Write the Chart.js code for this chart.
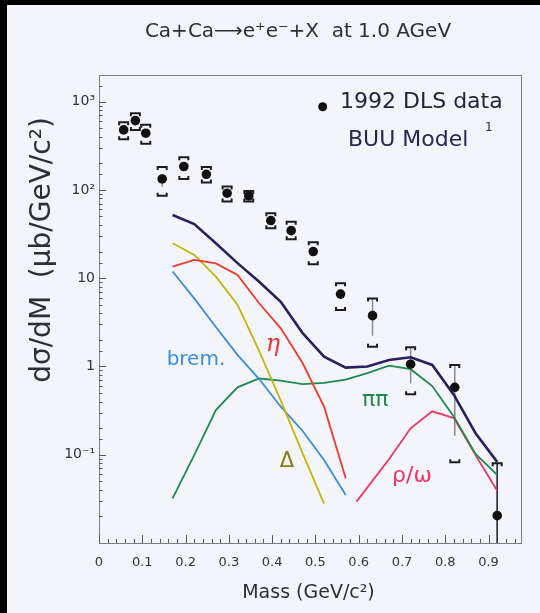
<!DOCTYPE html>
<html>
<head>
<meta charset="utf-8">
<script src="https://cdn.jsdelivr.net/npm/chart.js@4/dist/chart.umd.min.js"></script>
<style>
  html, body { margin: 0; padding: 0; background: #000; }
  body { width: 540px; height: 613px; overflow: hidden; position: relative; }
  #wrap { position: absolute; left: 7px; top: 5px; width: 533px; height: 608px; background: #f3f5fb; }
  canvas { display: block; }
</style>
</head>
<body>
<div id="wrap"><canvas id="chart" width="533" height="608"></canvas></div>
<script>
// DLS data (mass in GeV/c^2, cross section in ub/GeV/c^2)
const dlsMass = [0.057, 0.084, 0.108, 0.146, 0.196, 0.248, 0.296, 0.346, 0.397, 0.444, 0.495, 0.558, 0.632, 0.720, 0.822, 0.920];
const dlsVals = [478, 609, 438, 133, 184, 150, 91.6, 85.5, 44.9, 34.5, 20, 6.6, 3.76, 1.06, 0.58, 0.0204];
// systematic brackets
const sysHigh = [584, 739, 545, 181, 234, 181, 109, 97, 54.5, 43.6, 25.5, 8.75, 5.9, 1.65, 1.04, 0.080];
const sysLow = [375, 478, 332, 86, 133, 121, 73.6, 73.6, 36.8, 27.6, 14.4, 4.37, 1.67, 0.484, 0.082, null];
// statistical error lines
const statHigh = [null, null, null, 150, null, null, null, null, null, null, null, null, 5.9, 1.65, 1.04, 0.080];
const statLow = [null, null, null, 109, null, null, null, null, null, null, null, null, 2.23, 0.64, 0.164, 0.01];

// BUU model curves
const modelMass = [0.17, 0.22, 0.27, 0.32, 0.37, 0.42, 0.47, 0.52, 0.57, 0.62, 0.67, 0.72, 0.77, 0.82, 0.87, 0.92];
const totalVals = [52, 41, 24.9, 14.8, 9.1, 5.4, 2.4, 1.29, 0.97, 1.0, 1.18, 1.27, 1.04, 0.475, 0.175, 0.083];
const etaVals = [13.5, 16.1, 14.7, 10.9, 5.2, 2.7, 1.1, 0.35, 0.054];
const deltaVals = [24.9, 18.3, 10.4, 5.0, 1.5, 0.41, 0.105, 0.028];
const bremVals = [11.9, 5.9, 2.8, 1.35, 0.72, 0.35, 0.187, 0.087, 0.035];
const pipiVals = [0.032, 0.099, 0.32, 0.58, 0.73, 0.69, 0.63, 0.65, 0.71, 0.84, 1.02, 0.93, 0.60, 0.27, 0.102, 0.059];
const rhoMass = [0.595, 0.67, 0.72, 0.77, 0.82, 0.87, 0.92];
const rhoVals = [0.0294, 0.089, 0.199, 0.31, 0.26, 0.099, 0.039];

// tick labels
const xTickLabels = ['0', '0.1', '0.2', '0.3', '0.4', '0.5', '0.6', '0.7', '0.8', '0.9'];
const yTickValues = [0.1, 1, 10, 100, 1000];
const yTickLabels = ['10⁻¹', '1', '10', '10²', '10³'];

// curve labels (text, mass, value)
const curveLabels = [
  { text: 'brem.', x: 0.224, y: 1.18, color: '#3b8ddc', font: '20px "DejaVu Sans"' },
  { text: 'η', x: 0.402, y: 1.75, color: '#ee3a2c', font: 'italic 24px "DejaVu Serif"' },
  { text: 'Δ', x: 0.434, y: 0.083, color: '#8a7a10', font: '21px "DejaVu Sans"' },
  { text: 'ππ', x: 0.638, y: 0.417, color: '#1f8a4c', font: '22px "DejaVu Sans"' },
  { text: 'ρ/ω', x: 0.723, y: 0.0575, color: '#ef3468', font: '22px "DejaVu Sans"' }
];

const toPoints = (mass, vals) => vals.map((v, i) => ({ x: mass[i], y: v }));

function curve(label, mass, vals, color, width) {
  return {
    type: 'line',
    label: label,
    data: toPoints(mass, vals),
    borderColor: color,
    borderWidth: width,
    pointRadius: 0,
    tension: 0,
    fill: false
  };
}

const isDecade = v => Math.abs(Math.log10(v) - Math.round(Math.log10(v))) < 1e-6;
const isTenth = v => Math.abs(v * 10 - Math.round(v * 10)) < 1e-6;

// frame, inward ticks, error bars, texts
const decorPlugin = {
  id: 'decor',
  beforeDatasetsDraw(chart) {
    const { ctx, chartArea: a, scales: { x, y } } = chart;
    ctx.save();
    ctx.strokeStyle = '#7d7d86';
    ctx.lineWidth = 1;
    ctx.strokeRect(a.left + 0.5, a.top + 0.5, a.right - a.left, a.bottom - a.top);

    ctx.strokeStyle = '#55555e';
    x.ticks.forEach(t => {
      const px = Math.round(x.getPixelForValue(t.value)) + 0.5;
      const len = isTenth(t.value) ? 8 : 4;
      ctx.beginPath();
      ctx.moveTo(px, a.bottom);
      ctx.lineTo(px, a.bottom - len);
      ctx.stroke();
    });
    y.ticks.forEach(t => {
      if (t.value <= y.min || t.value >= y.max) return;
      const py = Math.round(y.getPixelForValue(t.value)) + 0.5;
      const len = isDecade(t.value) ? 7 : 3.5;
      ctx.beginPath();
      ctx.moveTo(a.left, py);
      ctx.lineTo(a.left + len, py);
      ctx.stroke();
    });

    // statistical errors
    ctx.strokeStyle = '#8c8c92';
    ctx.lineWidth = 1.5;
    dlsMass.forEach((m, i) => {
      if (statHigh[i] == null) return;
      const px = x.getPixelForValue(m);
      ctx.beginPath();
      ctx.moveTo(px, y.getPixelForValue(statHigh[i]));
      ctx.lineTo(px, y.getPixelForValue(statLow[i]));
      ctx.stroke();
    });
    ctx.strokeStyle = '#1c1c22';
    ctx.lineWidth = 1.3;
    ctx.beginPath();
    ctx.moveTo(x.getPixelForValue(dlsMass[15]), y.getPixelForValue(statHigh[15]));
    ctx.lineTo(x.getPixelForValue(dlsMass[15]), y.getPixelForValue(statLow[15]));
    ctx.stroke();

    // systematic brackets
    ctx.lineWidth = 2;
    ctx.strokeStyle = '#1c1c22';
    dlsMass.forEach((m, i) => {
      const px = x.getPixelForValue(m);
      const hw = 4.5;
      if (sysHigh[i] != null) {
        const py = y.getPixelForValue(sysHigh[i]);
        ctx.beginPath();
        ctx.moveTo(px - hw, py + 3);
        ctx.lineTo(px - hw, py);
        ctx.lineTo(px + hw, py);
        ctx.lineTo(px + hw, py + 3);
        ctx.stroke();
      }
      if (sysLow[i] != null) {
        const py = y.getPixelForValue(sysLow[i]);
        ctx.beginPath();
        ctx.moveTo(px - hw, py - 3);
        ctx.lineTo(px - hw, py);
        ctx.lineTo(px + hw, py);
        ctx.lineTo(px + hw, py - 3);
        ctx.stroke();
      }
    });
    ctx.restore();
  },
  afterDatasetsDraw(chart) {
    const { ctx, scales: { x, y } } = chart;
    ctx.save();
    ctx.textAlign = 'center';
    ctx.textBaseline = 'middle';

    curveLabels.forEach(l => {
      ctx.font = l.font;
      ctx.fillStyle = l.color;
      ctx.fillText(l.text, x.getPixelForValue(l.x), y.getPixelForValue(l.y));
    });

    // title
    ctx.fillStyle = '#2e2e3a';
    ctx.font = '20px "DejaVu Sans"';
    ctx.fillText('Ca+Ca⟶e⁺e⁻+X  at 1.0 AGeV', 291, 27);

    // legend
    ctx.fillStyle = '#111';
    ctx.beginPath();
    ctx.arc(315.7, 101.7, 4.5, 0, Math.PI * 2);
    ctx.fill();
    ctx.textAlign = 'left';
    ctx.fillStyle = '#24243a';
    ctx.font = '22px "DejaVu Sans"';
    ctx.fillText('1992 DLS data', 333, 97);
    ctx.fillStyle = '#2a2458';
    ctx.font = '22px "DejaVu Sans"';
    ctx.fillText('BUU Model', 341, 135);
    ctx.font = '12px "DejaVu Sans"';
    ctx.fillText('1', 478, 123);

    // axis titles
    ctx.textAlign = 'center';
    ctx.fillStyle = '#2e2e3a';
    ctx.font = '19px "DejaVu Sans"';
    ctx.fillText('Mass (GeV/c²)', 301.5, 588);
    ctx.translate(36, 245);
    ctx.rotate(-Math.PI / 2);
    ctx.font = '28px "DejaVu Sans"';
    ctx.fillText('dσ/dM  (μb/GeV/c²)', 0, 0);
    ctx.restore();
  }
};

Chart.defaults.font.family = '"DejaVu Sans"';
Chart.defaults.color = '#34343e';

new Chart(document.getElementById('chart'), {
  type: 'scatter',
  data: {
    datasets: [
      {
        type: 'scatter',
        label: '1992 DLS data',
        data: toPoints(dlsMass, dlsVals),
        backgroundColor: '#111',
        borderWidth: 0,
        pointRadius: 4.8
      },
      curve('total', modelMass, totalVals, '#2b205e', 2.6),
      curve('eta', modelMass, etaVals, '#ef3b2a', 1.8),
      curve('delta', modelMass, deltaVals, '#c6b40c', 1.8),
      curve('brem', modelMass, bremVals, '#3b8ddc', 1.8),
      curve('pipi', modelMass, pipiVals, '#1f8a4c', 1.8),
      curve('rho/omega', rhoMass, rhoVals, '#ef3468', 1.8)
    ]
  },
  options: {
    responsive: false,
    devicePixelRatio: 1,
    animation: false,
    layout: { padding: { top: 70, right: 19, left: 0, bottom: 0 } },
    plugins: {
      legend: { display: false },
      title: { display: false },
      tooltip: { enabled: false }
    },
    scales: {
      x: {
        type: 'linear',
        min: 0,
        max: 0.975,
        grid: { display: false, drawTicks: false },
        border: { display: false },
        afterFit(scale) { scale.height = 70; },
        ticks: {
          stepSize: 0.02,
          autoSkip: false,
          maxRotation: 0,
          includeBounds: false,
          padding: 12,
          font: { size: 13 },
          callback: v => isTenth(v) ? xTickLabels[Math.round(v * 10)] : ''
        }
      },
      y: {
        type: 'logarithmic',
        min: 0.01,
        max: 2000,
        grid: { display: false, drawTicks: false },
        border: { display: false },
        afterFit(scale) { scale.width = 92; },
        ticks: {
          autoSkip: false,
          padding: 4,
          font: { size: 14 },
          callback: v => {
            const i = yTickValues.findIndex(t => Math.abs(t - v) / t < 1e-6);
            return i >= 0 ? yTickLabels[i] : '';
          }
        }
      }
    }
  },
  plugins: [decorPlugin]
});
</script>
</body>
</html>
